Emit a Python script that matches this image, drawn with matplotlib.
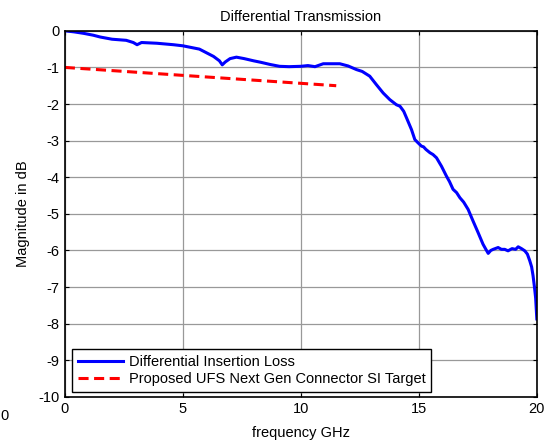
import matplotlib
matplotlib.use("Agg")
import matplotlib.pyplot as plt

## Data
freq_ghz = [0, 0.4, 0.8, 1.2, 1.5, 2.0, 2.6, 2.9, 3.06, 3.25, 3.9, 4.6, 5.0, 5.7, 6.0,
            6.3, 6.55, 6.67, 6.8, 7.0, 7.27, 7.6, 8.0, 8.3, 8.7, 9.1, 9.5, 10.0, 10.3,
            10.6, 10.95, 11.3, 11.65, 12.0, 12.36, 12.6, 12.92, 13.2, 13.49, 13.77, 14.05,
            14.2, 14.27, 14.36, 14.48, 14.69, 14.83, 14.95, 15.11, 15.2, 15.3, 15.47, 15.6,
            15.75, 15.96, 16.17, 16.3, 16.45, 16.6, 16.74, 16.9, 17.09, 17.3, 17.51, 17.72,
            17.85, 17.94, 18.05, 18.15, 18.36, 18.5, 18.64, 18.78, 18.95, 19.1, 19.21, 19.35,
            19.49, 19.6, 19.7, 19.78, 19.84, 19.9, 19.95, 20.0]
insertion_loss = [0, -0.03, -0.07, -0.12, -0.17, -0.23, -0.26, -0.32, -0.38, -0.32, -0.34,
                  -0.38, -0.41, -0.5, -0.6, -0.7, -0.82, -0.93, -0.85, -0.76, -0.72, -0.76,
                  -0.82, -0.86, -0.92, -0.97, -0.98, -0.97, -0.95, -0.98, -0.9, -0.9, -0.9,
                  -0.96, -1.06, -1.11, -1.24, -1.47, -1.70, -1.88, -2.02, -2.06, -2.12, -2.2,
                  -2.38, -2.70, -2.97, -3.05, -3.15, -3.17, -3.24, -3.33, -3.38, -3.47, -3.7,
                  -3.97, -4.12, -4.33, -4.42, -4.56, -4.68, -4.88, -5.2, -5.51, -5.83, -5.98,
                  -6.08, -6.0, -5.97, -5.92, -5.97, -5.97, -6.01, -5.95, -5.97, -5.9, -5.95,
                  -6.01, -6.1, -6.28, -6.45, -6.69, -7.0, -7.3, -7.87]
target_freq = [0, 11.5]
target_loss = [-1.0, -1.5]

x_ticks = [0, 5, 10, 15, 20]
y_ticks = [0, -1, -2, -3, -4, -5, -6, -7, -8, -9, -10]

## Plot
plt.rcParams['font.family'] = ['Liberation Sans', 'DejaVu Sans']
plt.rcParams['font.size'] = 10.5
plt.rcParams['axes.unicode_minus'] = False

fig = plt.figure(figsize=(5.45, 4.4), dpi=100)
ax = fig.add_axes([0.119, 0.098, 0.866, 0.832])

ax.plot(freq_ghz, insertion_loss, color='#0000ff', lw=2.2, label='Differential Insertion Loss')
ax.plot(target_freq, target_loss, color='#ff0000', lw=2.2, ls=(0, (3.3, 1.8)),
        label='Proposed UFS Next Gen Connector SI Target')

ax.set_xlim(0, 20)
ax.set_ylim(-10, 0)
ax.set_xticks(x_ticks)
ax.set_yticks(y_ticks)
ax.tick_params(direction='in', length=3, width=0.8, top=True, right=True, pad=4)
ax.grid(True, color='0.6', lw=0.9)
ax.set_axisbelow(True)
for sp in ax.spines.values():
    sp.set_linewidth(1.2)

ax.set_title('Differential Transmission', fontsize=10.5, pad=7)
ax.set_xlabel('frequency GHz', labelpad=7)
ax.set_ylabel('Magnitude in dB', labelpad=6)

leg = ax.legend(loc='lower left', bbox_to_anchor=(0.016, 0.014), borderaxespad=0,
                fancybox=False, edgecolor='black', framealpha=1, handlelength=3.1,
                borderpad=0.4, labelspacing=0.2, handletextpad=0.35)
leg.get_frame().set_linewidth(1.0)

# stray cropped label at the far left edge of the original image
fig.text(0.0, (440 - 416) / 440, '0', ha='left', va='center')

fig.savefig('out.png', dpi=100)
